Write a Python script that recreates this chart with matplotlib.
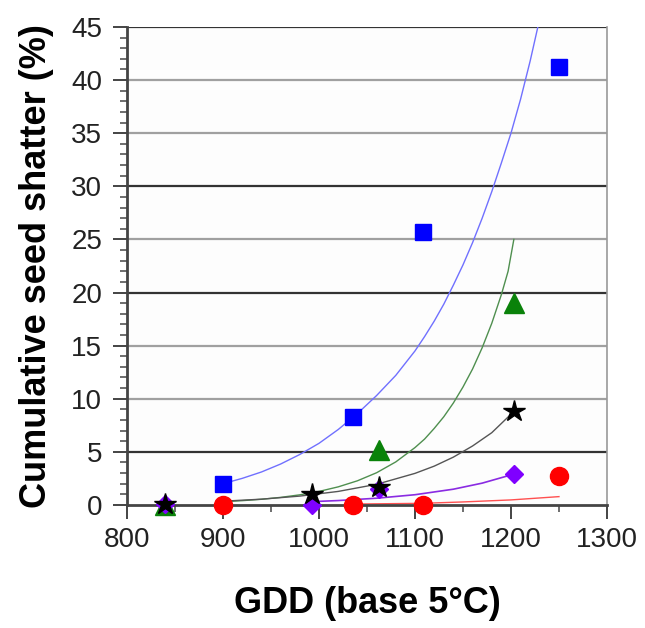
import matplotlib
matplotlib.use("Agg")
import matplotlib.pyplot as plt
from matplotlib.ticker import MultipleLocator

plt.rcParams['font.family'] = ['Liberation Sans', 'DejaVu Sans']

# observed points (GDD, cumulative shatter %)
sq_x = [900, 1035, 1108, 1250]
sq_y = [2.0, 8.3, 25.7, 41.2]
ci_x = [900, 1035, 1108, 1250]
ci_y = [0.0, 0.0, 0.0, 2.7]
tri_x = [840, 1063, 1203]
tri_y = [0.0, 5.2, 19.0]
dia_x = [840, 993, 1063, 1203]
dia_y = [0.1, 0.0, 1.5, 2.9]
star_x = [840, 993, 1063, 1203]
star_y = [0.1, 1.0, 1.7, 8.8]

# trend curves
blue_cx = [900, 920, 940, 960, 980, 1000, 1020, 1040, 1060, 1080, 1100, 1110, 1120, 1130,
           1140, 1150, 1160, 1170, 1180, 1190, 1200, 1210, 1220, 1228]
blue_cy = [2.0, 2.5, 3.1, 3.85, 4.75, 5.8, 7.1, 8.6, 10.3, 12.2, 14.5, 15.85, 17.3, 18.9,
           20.7, 22.6, 24.7, 27.0, 29.5, 32.2, 35.0, 38.2, 41.8, 45.0]
green_cx = [900, 920, 940, 960, 980, 1000, 1020, 1040, 1060, 1080, 1100, 1110, 1120, 1130,
            1140, 1150, 1160, 1170, 1180, 1190, 1197, 1203]
green_cy = [0.3, 0.4, 0.53, 0.71, 0.95, 1.27, 1.7, 2.27, 3.03, 4.05, 5.4, 6.2, 7.2, 8.3,
            9.6, 11.1, 12.8, 14.8, 17.1, 19.8, 22.0, 25.0]
black_cx = [900, 940, 980, 1020, 1060, 1100, 1120, 1140, 1160, 1180, 1203]
black_cy = [0.35, 0.54, 0.83, 1.27, 1.94, 2.97, 3.65, 4.5, 5.55, 6.8, 8.8]
purple_cx = [993, 1020, 1060, 1100, 1140, 1170, 1203]
purple_cy = [0.31, 0.41, 0.63, 0.96, 1.48, 2.05, 2.9]
red_cx = [1035, 1108, 1150, 1200, 1250]
red_cy = [0.08, 0.15, 0.28, 0.47, 0.78]

grid_levels = [5, 10, 15, 20, 25, 30, 35, 40, 45]
dark_levels = [5, 20, 30, 45]

fig = plt.figure(figsize=(6.45, 6.28), dpi=100)
ax = fig.add_axes([0.197, 0.196, 0.744, 0.761])
ax.set_facecolor('#fdfdfd')

for lv in grid_levels:
    if lv in dark_levels:
        ax.axhline(lv, color='#333333', lw=1.6, zorder=1)
    else:
        ax.axhline(lv, color='#a0a0a0', lw=1.6, zorder=1)

ax.plot(blue_cx, blue_cy, color='#7070ff', lw=1.0, zorder=2)
ax.plot(green_cx, green_cy, color='#4f8f4f', lw=1.0, zorder=2)
ax.plot(black_cx, black_cy, color='#555555', lw=1.0, zorder=2)
ax.plot(purple_cx, purple_cy, color='#8a2be2', lw=1.2, zorder=2)
ax.plot(red_cx, red_cy, color='#ff5050', lw=1.0, zorder=2)

mk = dict(ls='none', clip_on=False, zorder=5)
ax.plot(tri_x, tri_y, marker='^', ms=14, color='#0a820a', mec='#0a820a', **mk)
ax.plot(ci_x, ci_y, marker='o', ms=13, color='#ff0000', mec='#ff0000', **mk)
ax.plot(sq_x, sq_y, marker='s', ms=12, color='#0000ff', mec='#0000ff', **mk)
ax.plot(dia_x, dia_y, marker='D', ms=9.5, color='#7f00ff', mec='#7f00ff', **mk)
ax.plot(star_x, star_y, marker='*', ms=16, color='black', mec='black', **mk)

ax.set_xlim(800, 1300)
ax.set_ylim(0, 45)
ax.xaxis.set_major_locator(MultipleLocator(100))
ax.xaxis.set_minor_locator(MultipleLocator(50))
ax.yaxis.set_major_locator(MultipleLocator(5))
ax.yaxis.set_minor_locator(MultipleLocator(1))

ax.tick_params(axis='both', which='major', labelsize=20, labelcolor='#222222',
               color='#444444', width=1.4, length=10)
ax.tick_params(axis='both', which='minor', color='#555555', width=1.2, length=5)
ax.tick_params(axis='y', which='major', pad=8)
ax.tick_params(axis='x', which='major', pad=6)

ax.spines['top'].set_visible(False)
ax.spines['left'].set_color('#444444')
ax.spines['left'].set_linewidth(2)
ax.spines['bottom'].set_color('#444444')
ax.spines['bottom'].set_linewidth(2)
ax.spines['right'].set_color('#999999')
ax.spines['right'].set_linewidth(1.2)

ax.set_ylabel('Cumulative seed shatter (%)', fontsize=26, fontweight='bold', labelpad=12)
ax.set_xlabel('GDD (base 5°C)', fontsize=26, fontweight='bold', labelpad=24)

fig.savefig('out.png', dpi=100)
